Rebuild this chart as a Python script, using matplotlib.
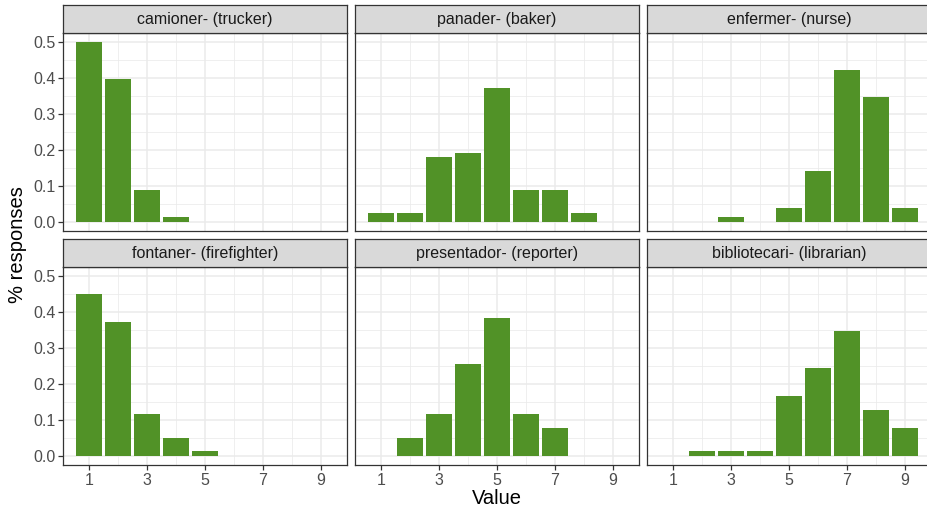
import numpy as np
import matplotlib
matplotlib.use("Agg")
import matplotlib.pyplot as plt

plt.rcParams['font.family'] = ['Liberation Sans', 'DejaVu Sans']

# response counts out of 78 per word, values 1..9
values = np.arange(1, 10)
titles = ["camioner- (trucker)", "panader- (baker)", "enfermer- (nurse)",
          "fontaner- (firefighter)", "presentador- (reporter)", "bibliotecari- (librarian)"]
trucker = [39, 31, 7, 1, 0, 0, 0, 0, 0]
baker = [2, 2, 14, 15, 29, 7, 7, 2, 0]
nurse = [0, 0, 1, 0, 3, 11, 33, 27, 3]
firefighter = [35, 29, 9, 4, 1, 0, 0, 0, 0]
reporter = [0, 4, 9, 20, 30, 9, 6, 0, 0]
librarian = [0, 1, 1, 1, 13, 19, 27, 10, 6]
n_resp = 78
counts = [trucker, baker, nurse, firefighter, reporter, librarian]

W, H = 928, 511
fig = plt.figure(figsize=(W / 100, H / 100), dpi=100)

bar_col = "#519227"
grid_col = "#EBEBEB"
dark = "#333333"
tick_txt = "#4D4D4D"

lefts = [63, 355, 647]
pw = 284
rows = [(5, 33, 231), (239, 267, 465)]  # strip top, panel top, panel bottom

for i, (title, c) in enumerate(zip(titles, counts)):
    r, col = divmod(i, 3)
    st, pt, pb = rows[r]
    x0 = lefts[col]
    ax = fig.add_axes([x0 / W, 1 - pb / H, pw / W, (pb - pt) / H])
    frac = np.array(c) / n_resp
    keep = frac > 0
    ax.bar(values[keep], frac[keep], width=0.9, color=bar_col, zorder=3)
    ax.set_xlim(0.105, 9.895)
    ax.set_ylim(-0.025, 0.525)
    ax.set_xticks([1, 3, 5, 7, 9])
    ax.set_xticks([2, 4, 6, 8], minor=True)
    ax.set_yticks([0, 0.1, 0.2, 0.3, 0.4, 0.5])
    ax.set_yticks([0.05, 0.15, 0.25, 0.35, 0.45], minor=True)
    ax.grid(True, which='major', color=grid_col, lw=1.1, zorder=0)
    ax.grid(True, which='minor', color=grid_col, lw=0.55, zorder=0)
    ax.tick_params(which='minor', length=0)
    ax.tick_params(which='major', length=3.5, width=0.9, color=dark,
                   labelsize=11.5, labelcolor=tick_txt, pad=2)
    for s in ax.spines.values():
        s.set_color(dark)
        s.set_linewidth(0.9)
    ax.set_axisbelow(True)
    if col == 0:
        ax.set_yticklabels(["0.0", "0.1", "0.2", "0.3", "0.4", "0.5"])
    else:
        ax.tick_params(axis='y', labelleft=False, length=0)
    if r == 0:
        ax.tick_params(axis='x', labelbottom=False, length=0)

    sax = fig.add_axes([x0 / W, 1 - pt / H, pw / W, (pt - st) / H])
    sax.set_facecolor("#D9D9D9")
    sax.set_xticks([])
    sax.set_yticks([])
    for s in sax.spines.values():
        s.set_color(dark)
        s.set_linewidth(0.9)
    sax.text(0.5, 0.47, title, ha='center', va='center', fontsize=11.5,
             color="#1A1A1A", transform=sax.transAxes)

fig.text(497 / W, 1 - 498 / H, "Value", ha='center', va='center', fontsize=14.5, color='black')
fig.text(18 / W, 1 - 245 / H, "% responses", ha='center', va='center', fontsize=14.5,
         rotation=90, color='black')

fig.savefig("out.png", dpi=100, facecolor='white')
